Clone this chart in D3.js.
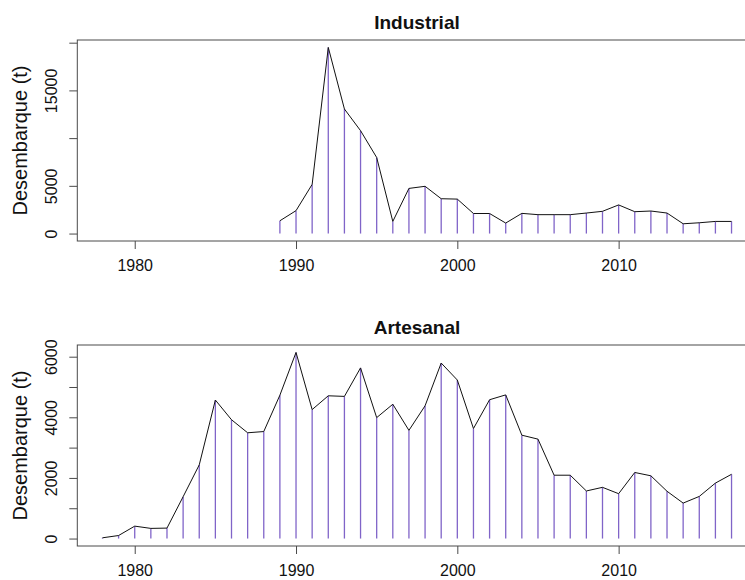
<!DOCTYPE html>
<html>
<head>
<meta charset="utf-8">
<script src="https://cdn.jsdelivr.net/npm/d3@7"></script>
<style>
  html, body { margin: 0; padding: 0; background: #fff; }
  svg { display: block; font-family: "Liberation Sans", Arial, Helvetica, sans-serif; }
</style>
</head>
<body>
<svg id="chart" width="745" height="580"></svg>
<script>
// ---- Data ----
const industrialYears = [1989,1990,1991,1992,1993,1994,1995,1996,1997,1998,1999,2000,2001,2002,2003,2004,2005,2006,2007,2008,2009,2010,2011,2012,2013,2014,2015,2016,2017];
const industrialValues = [1340,2400,5150,19500,13050,10780,7970,1270,4730,4950,3650,3610,2100,2100,1100,2115,1980,1980,1980,2150,2330,3000,2290,2360,2150,1025,1130,1270,1270];

const artesanalYears = [1978,1979,1980,1981,1982,1983,1984,1985,1986,1987,1988,1989,1990,1991,1992,1993,1994,1995,1996,1997,1998,1999,2000,2001,2002,2003,2004,2005,2006,2007,2008,2009,2010,2011,2012,2013,2014,2015,2016,2017];
const artesanalValues = [25,100,410,335,345,1380,2430,4570,3920,3490,3530,4730,6140,4255,4710,4690,5630,3990,4430,3570,4380,5790,5230,3630,4580,4740,3410,3280,2090,2090,1570,1690,1480,2180,2070,1560,1170,1390,1830,2120];

const xTicks = [1980, 1990, 2000, 2010];
const industrialYTicks = [0, 5000, 10000, 15000, 20000];
const industrialYLabels = [0, 5000, 15000];
const artesanalYTicks = [0, 1000, 2000, 3000, 4000, 5000, 6000];
const artesanalYLabels = [0, 2000, 4000, 6000];

const titles = ["Industrial", "Artesanal"];
const yTitle = "Desembarque (t)";
const xRange = [1978, 2017];

// ---- Layout ----
const svg = d3.select("#chart");
const left = 77.3, right = 756.7;
const panels = [
  { title: titles[0], years: industrialYears, values: industrialValues, yTicks: industrialYTicks, yLabels: industrialYLabels, top: 40, bottom: 241, ymax: 19500 },
  { title: titles[1], years: artesanalYears, values: artesanalValues, yTicks: artesanalYTicks, yLabels: artesanalYLabels, top: 345, bottom: 546, ymax: 6140 }
];

// R-style 4% axis extension
function ext(a, b) { const d = (b - a) * 0.04; return [a - d, b + d]; }

const x = d3.scaleLinear().domain(ext(xRange[0], xRange[1])).range([left, right]);

const barColor = "#7253c2";
const boxColor = "#4a4a4a";

panels.forEach(p => {
  const y = d3.scaleLinear().domain(ext(0, p.ymax)).range([p.bottom, p.top]);
  const g = svg.append("g");
  const data = p.years.map((yr, i) => ({ yr, v: p.values[i] }));

  // vertical "h" bars
  g.selectAll("line.bar").data(data).enter().append("line")
    .attr("class", "bar")
    .attr("x1", d => x(d.yr)).attr("x2", d => x(d.yr))
    .attr("y1", y(0)).attr("y2", d => y(d.v))
    .attr("stroke", barColor).attr("stroke-width", 1.3).attr("stroke-opacity", 0.9);

  // line
  g.append("path").datum(data)
    .attr("d", d3.line().x(d => x(d.yr)).y(d => y(d.v)))
    .attr("fill", "none").attr("stroke", "#111").attr("stroke-width", 1);

  // box
  g.append("rect")
    .attr("x", left).attr("y", p.top)
    .attr("width", right - left).attr("height", p.bottom - p.top)
    .attr("fill", "none").attr("stroke", boxColor).attr("stroke-width", 1);

  // x axis
  const xa = g.append("g").attr("transform", `translate(0,${p.bottom})`)
    .call(d3.axisBottom(x).tickValues(xTicks).tickSizeInner(8).tickSizeOuter(0).tickPadding(0).tickFormat(d3.format("d")));
  xa.select(".domain").remove();
  xa.selectAll(".tick line").attr("stroke", boxColor);
  xa.selectAll(".tick text").attr("font-size", 16).attr("fill", "#111")
    .attr("dy", null).attr("y", 30).attr("font-family", null);

  // y axis
  const ya = g.append("g").attr("transform", `translate(${left},0)`)
    .call(d3.axisLeft(y).tickValues(p.yTicks).tickSizeInner(8).tickSizeOuter(0).tickFormat(d => p.yLabels.includes(d) ? String(d) : ""));
  ya.select(".domain").remove();
  ya.selectAll(".tick line").attr("stroke", boxColor);
  ya.selectAll(".tick text")
    .attr("font-size", 16).attr("fill", "#111").attr("font-family", null)
    .attr("x", null).attr("dy", null)
    .attr("text-anchor", "middle")
    .attr("transform", "translate(-20.5,0) rotate(-90)");

  // title
  g.append("text")
    .attr("x", (left + right) / 2).attr("y", p.top - 11)
    .attr("text-anchor", "middle").attr("font-weight", "bold").attr("font-size", 19).attr("fill", "#111")
    .text(p.title);

  // y title
  g.append("text")
    .attr("transform", `translate(26.5,${(p.top + p.bottom) / 2}) rotate(-90)`)
    .attr("text-anchor", "middle").attr("font-size", 20).attr("fill", "#111")
    .text(yTitle);
});
</script>
</body>
</html>
